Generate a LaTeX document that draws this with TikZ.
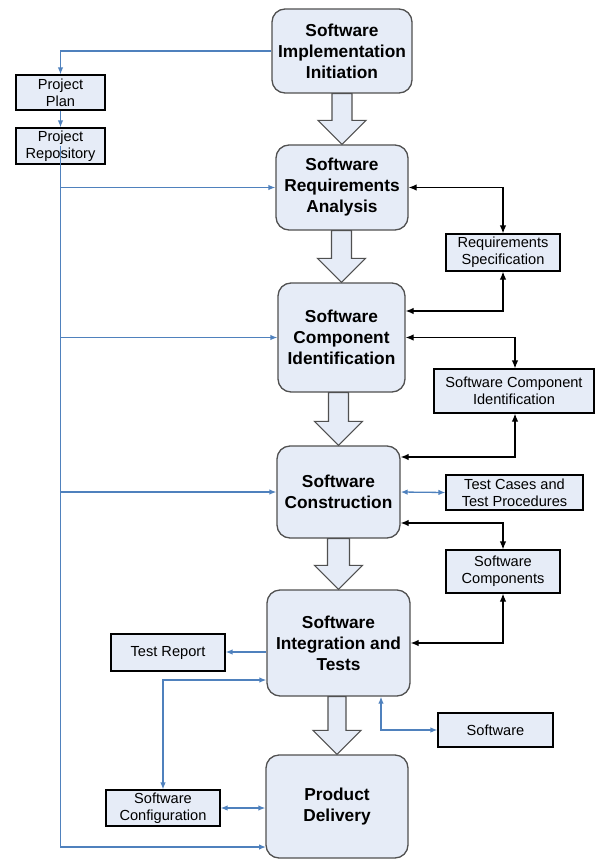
\documentclass[tikz,border=0pt]{standalone}
\usepackage{fontspec}
\setmainfont{Liberation Sans}
\usetikzlibrary{arrows.meta,calc}
\definecolor{boxfill}{HTML}{E6ECF7}
\definecolor{lineblue}{HTML}{4F81BD}
\definecolor{boxgray}{HTML}{505050}
\begin{document}
\begin{tikzpicture}[x=1pt,y=-1pt,
  mainbox/.style={draw=boxgray,line width=1.3pt,fill=boxfill,rounded corners=13pt,align=center,inner sep=0pt,
    font=\fontsize{17.3}{21}\selectfont\bfseries},
  smallbox/.style={draw=black,line width=1.2pt,fill=boxfill,align=center,inner sep=0pt,
    font=\fontsize{14.6}{17}\selectfont},
  bl/.style={draw=lineblue,line width=1.3pt,-{Latex[length=7pt,width=5.5pt]}},
  blboth/.style={draw=lineblue,line width=1.3pt,{Latex[length=7pt,width=5.5pt]}-{Latex[length=7pt,width=5.5pt]}},
  bk/.style={draw=black,line width=1.2pt,{Latex[length=8pt,width=6.5pt]}-{Latex[length=8pt,width=6.5pt]}},
  hollow/.style={draw=boxgray,line width=1.1pt,fill=boxfill,line join=miter}
]
\useasboundingbox (0,0) rectangle (595,861);

% main boxes
\node[mainbox,minimum width=140pt,minimum height=84pt] (init) at (342,51) {Software\\Implementation\\Initiation};
\node[mainbox,minimum width=132pt,minimum height=85pt] (req) at (342,187.5) {Software\\Requirements\\Analysis};
\node[mainbox,minimum width=127pt,minimum height=109pt] (comp) at (341.5,337.5) {Software\\Component\\Identification};
\node[mainbox,minimum width=123pt,minimum height=92pt] (cons) at (338.5,492) {Software\\Construction};
\node[mainbox,minimum width=143pt,minimum height=106pt] (integ) at (338.5,643) {Software\\Integration and\\Tests};
\node[mainbox,minimum width=142pt,minimum height=103pt] (deliv) at (337,806.5) {Product\\Delivery};

% small boxes
\node[smallbox,minimum width=89pt,minimum height=35pt] (plan) at (60.5,92.5) {Project\\Plan};
\node[smallbox,minimum width=89pt,minimum height=36pt] (repo) at (60.5,146) {Project\\Repository};
\node[smallbox,minimum width=114pt,minimum height=37pt] (reqspec) at (503,252.5) {Requirements\\Specification};
\node[smallbox,minimum width=160pt,minimum height=44pt] (sci) at (514,391) {Software Component\\Identification};
\node[smallbox,minimum width=137pt,minimum height=35pt] (tcases) at (514.5,492.5) {Test Cases and\\Test Procedures};
\node[smallbox,minimum width=114pt,minimum height=43pt] (swcomp) at (503,571.5) {Software\\Components};
\node[smallbox,minimum width=114pt,minimum height=37pt] (treport) at (168,652.5) {Test Report};
\node[smallbox,minimum width=114pt,minimum height=36pt] (swconf) at (163,808) {Software\\Configuration};
\node[smallbox,minimum width=115pt,minimum height=34pt] (software) at (495.5,730) {Software};

% hollow block arrows
\foreach \a/\b/\sh/\hh in {init/req/10/24, req/comp/10/24, comp/cons/10/24, cons/integ/11/24, integ/deliv/9/24}{
  \path let \p1=(\a.south), \p2=(\b.north) in
    [hollow] (\x2-\sh pt,\y1) -- (\x2+\sh pt,\y1) -- (\x2+\sh pt,\y2+24pt) -- (\x2+\hh pt,\y2+24pt)
    -- (\x2,\y2) -- (\x2-\hh pt,\y2+24pt) -- (\x2-\sh pt,\y2+24pt) -- cycle;
}

% blue connectors from project plan / repository
\coordinate (dl) at (266,847);
\draw[bl] (init.west) -| (plan.north);
\draw[bl] (plan.south) -- (repo.north);
\draw[bl] (repo.center) |- (dl);
\draw[bl] (repo.center |- req.west) -- (req.west);
\draw[bl] (repo.center |- comp.west) -- (comp.west);
\draw[bl] (repo.center |- cons.west) -- (cons.west);

% black document connectors
\draw[bk] (req.east) -| (reqspec.north);
\draw[bk] (reqspec.south) |- ([yshift=26.5pt]comp.east);
\draw[bk] (comp.east) -| ([xshift=1pt]sci.north);
\draw[bk] ([xshift=1pt]sci.south) |- ([yshift=35pt]cons.east);
\draw[blboth] (cons.east) -- (tcases.west);
\draw[bk] ([yshift=-31pt]cons.east) -| (swcomp.north);
\draw[bk] (swcomp.south) |- (integ.east);

% integration / delivery connectors
\draw[bl] ([yshift=-9pt]integ.west) -- ([yshift=-9pt]integ.west -| treport.east);
\draw[blboth] ([yshift=-37pt]integ.west) -| (swconf.north);
\draw[blboth] (swconf.east) -- (swconf.east -| deliv.west);
\draw[blboth] (software.west) -| ([xshift=42.5pt]integ.south);
\end{tikzpicture}
\end{document}
